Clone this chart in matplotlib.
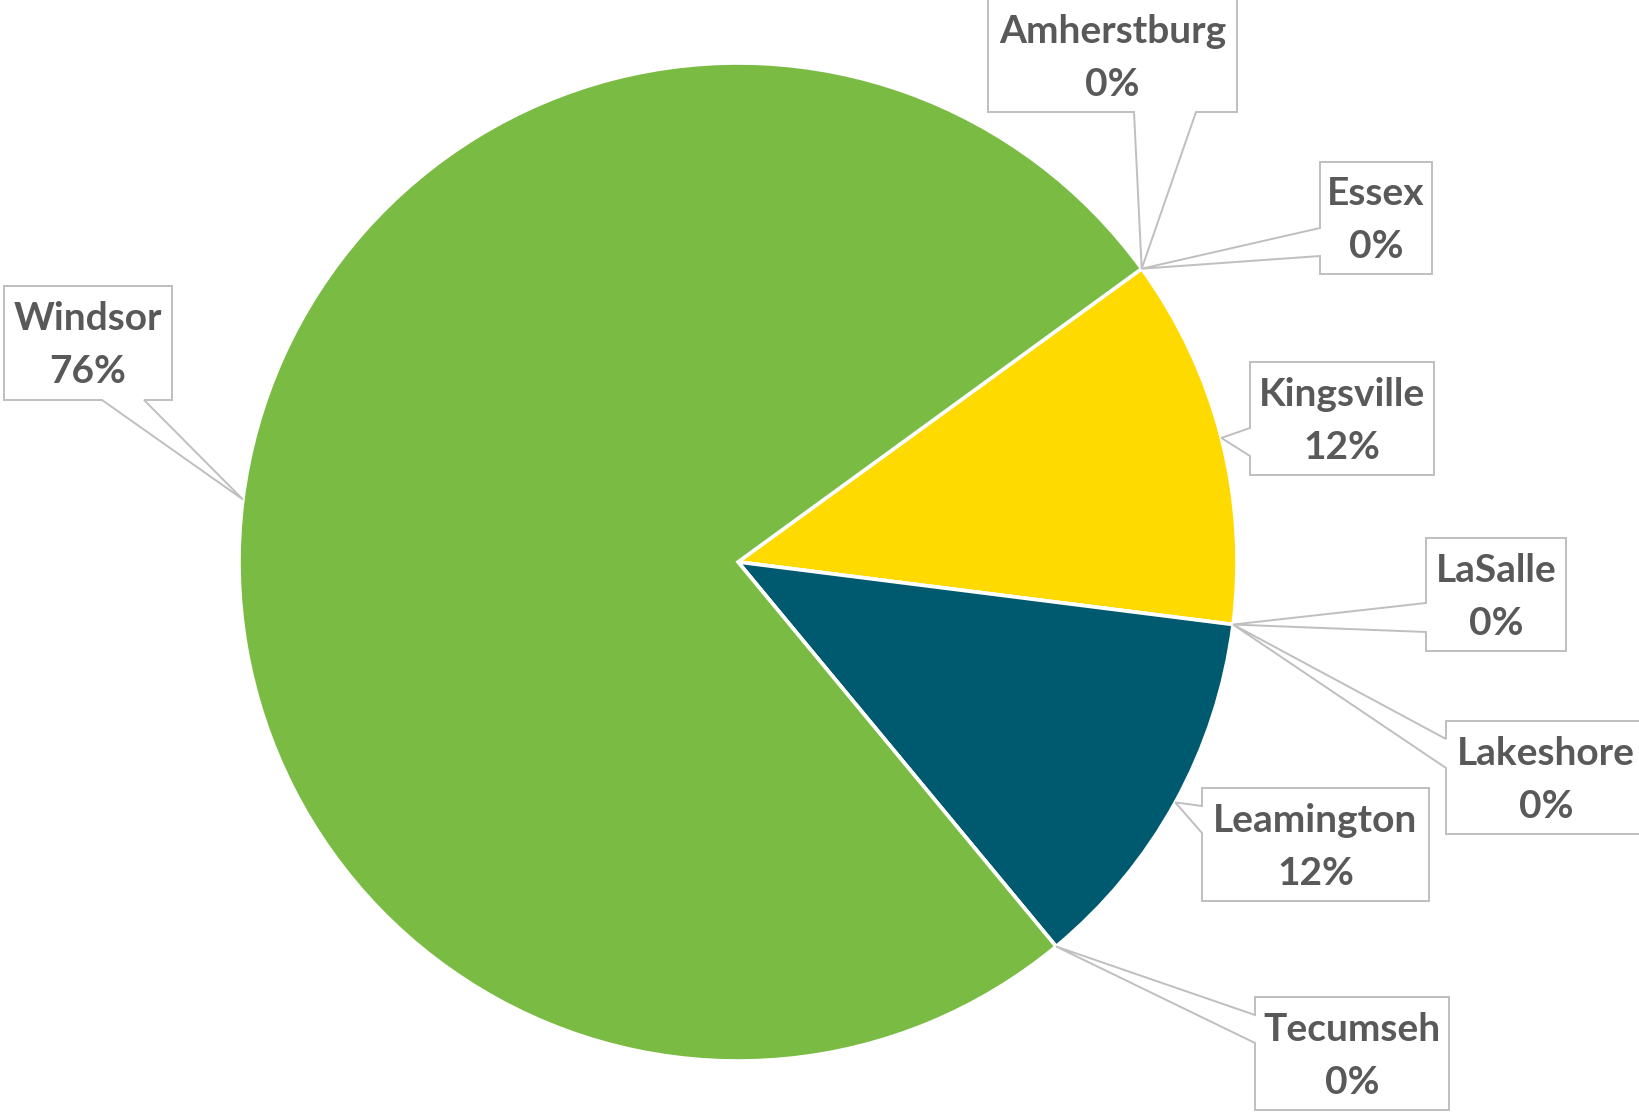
import numpy as np
import matplotlib
matplotlib.use('Agg')
import matplotlib.pyplot as plt
from matplotlib.patches import Polygon

# 数据
towns = ['Amherstburg', 'Essex', 'Kingsville', 'LaSalle', 'Lakeshore',
         'Leamington', 'Tecumseh', 'Windsor']
counts = [0, 0, 3, 0, 0, 3, 0, 19]
colors = ['#4472C4', '#ED7D31', '#FFDA00', '#A5A5A5', '#5B9BD5',
          '#005A6F', '#70AD47', '#7ABC43']

W, H = 1640, 1112
plt.rcParams['font.family'] = ['Lato', 'DejaVu Sans']

fig = plt.figure(figsize=(W / 100, H / 100), dpi=100)
ax = fig.add_axes([0, 0, 1, 1])

# 饼图 (中心和半径按像素设置)
cx, cy, r = 738, 562, 499
wedges, _ = ax.pie(counts, colors=colors, startangle=36, counterclock=False,
                   radius=r, center=(cx, H - cy),
                   wedgeprops=dict(edgecolor='white', linewidth=2.6))

ax.set_xlim(0, W)
ax.set_ylim(0, H)
ax.set_aspect('equal')
ax.axis('off')

# 标签框: (x0, y0, x1, y1, 引线所在边, 引线底边两点)  像素坐标, 原点在左上
boxes = {
    'Amherstburg': (988, -1, 1237, 112, 'bottom', 1134, 1196),
    'Essex':       (1320, 162, 1432, 274, 'left', 228, 256),
    'Kingsville':  (1250, 362, 1434, 475, 'left', 428, 456),
    'LaSalle':     (1426, 538, 1566, 651, 'left', 603, 632),
    'Lakeshore':   (1446, 721, 1646, 834, 'left', 739, 768),
    'Leamington':  (1202, 788, 1429, 901, 'left', 806, 833),
    'Tecumseh':    (1255, 997, 1449, 1110, 'left', 1015, 1043),
    'Windsor':     (4, 286, 172, 400, 'bottom', 102, 144),
}

total = sum(counts)
for name, v, w in zip(towns, counts, wedges):
    x0, y0, x1, y1, side, b1, b2 = boxes[name]
    # 引线指向扇区中间角度的边缘
    th = np.deg2rad((w.theta1 + w.theta2) / 2)
    tip = (cx + r * np.cos(th), cy - r * np.sin(th))

    if side == 'bottom':
        pts = [(x0, y0), (x1, y0), (x1, y1), (b2, y1), tip, (b1, y1), (x0, y1)]
    else:
        pts = [(x0, y0), (x1, y0), (x1, y1), (x0, y1), (x0, b2), tip, (x0, b1)]
    pts = [(px, H - py) for px, py in pts]
    ax.add_patch(Polygon(pts, closed=True, facecolor='white',
                         edgecolor='#BFBFBF', linewidth=1.4, zorder=3))

    h = y1 - y0
    xc = (x0 + x1) / 2
    ax.text(xc, H - (y0 + 0.385 * h), name, ha='center', va='baseline',
            fontsize=28, fontweight='bold', color='#595959', zorder=4)
    ax.text(xc, H - (y0 + 0.855 * h), f'{round(v / total * 100)}%',
            ha='center', va='baseline', fontsize=28, fontweight='bold',
            color='#595959', zorder=4)

plt.savefig('out.png', dpi=100, facecolor='white')
